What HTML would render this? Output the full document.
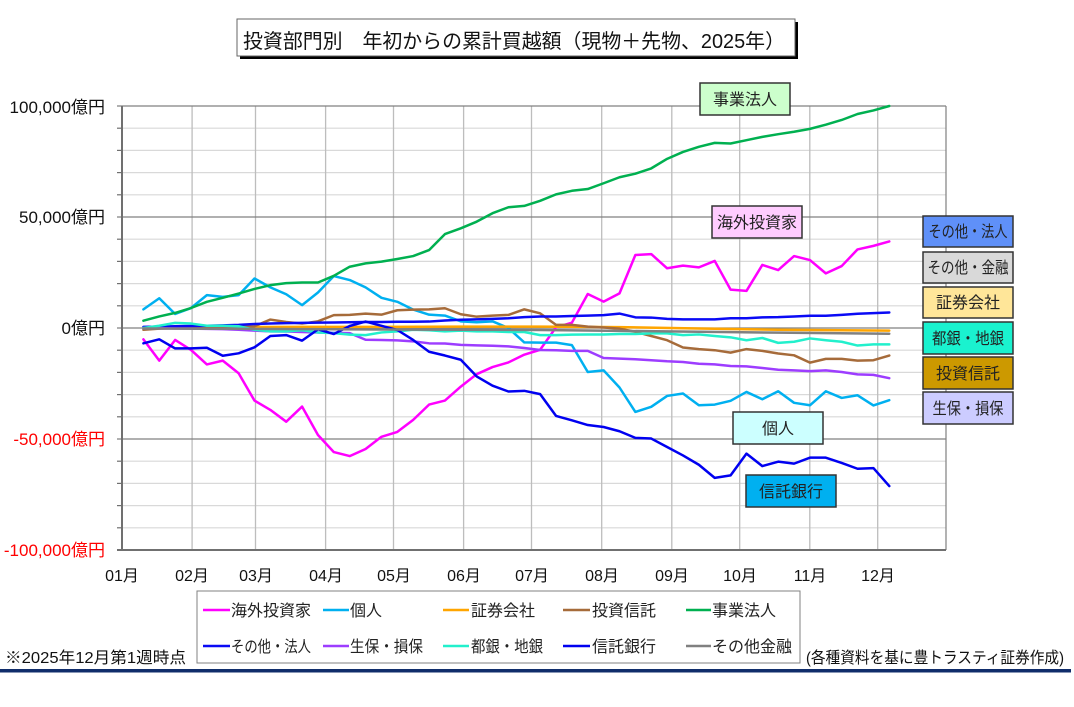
<!DOCTYPE html>
<html><head><meta charset="utf-8"><style>
html,body{margin:0;padding:0;background:#fff;}
svg{display:block;font-family:"Liberation Sans","Noto Sans CJK JP",sans-serif;}
</style></head><body>
<svg width="1074" height="707" viewBox="0 0 1074 707" xmlns="http://www.w3.org/2000/svg">
<rect x="0" y="0" width="1074" height="707" fill="#fff"/>
<!-- title -->
<rect x="240" y="22" width="558" height="37" fill="#000"/>
<rect x="237" y="19" width="558" height="37" fill="#fff" stroke="#666" stroke-width="1"/>
<text x="243" y="48" font-size="20" fill="#111" textLength="542" lengthAdjust="spacingAndGlyphs">投資部門別　年初からの累計買越額（現物＋先物、2025年）</text>

<!-- minor horizontal grid -->
<g stroke="#d9d9d9" stroke-width="1.2">
<line x1="122" x2="946" y1="128.2" y2="128.2"/><line x1="122" x2="946" y1="150.4" y2="150.4"/>
<line x1="122" x2="946" y1="172.6" y2="172.6"/><line x1="122" x2="946" y1="194.8" y2="194.8"/>
<line x1="122" x2="946" y1="239.2" y2="239.2"/><line x1="122" x2="946" y1="261.4" y2="261.4"/>
<line x1="122" x2="946" y1="283.6" y2="283.6"/><line x1="122" x2="946" y1="305.8" y2="305.8"/>
<line x1="122" x2="946" y1="350.2" y2="350.2"/><line x1="122" x2="946" y1="372.4" y2="372.4"/>
<line x1="122" x2="946" y1="394.6" y2="394.6"/><line x1="122" x2="946" y1="416.8" y2="416.8"/>
<line x1="122" x2="946" y1="461.2" y2="461.2"/><line x1="122" x2="946" y1="483.4" y2="483.4"/>
<line x1="122" x2="946" y1="505.6" y2="505.6"/><line x1="122" x2="946" y1="527.8" y2="527.8"/>
</g>
<!-- vertical month grid -->
<g stroke="#bdbdbd" stroke-width="1.3">
<line x1="192.1" x2="192.1" y1="106" y2="550"/><line x1="255.5" x2="255.5" y1="106" y2="550"/>
<line x1="325.6" x2="325.6" y1="106" y2="550"/><line x1="393.5" x2="393.5" y1="106" y2="550"/>
<line x1="463.6" x2="463.6" y1="106" y2="550"/><line x1="531.5" x2="531.5" y1="106" y2="550"/>
<line x1="601.7" x2="601.7" y1="106" y2="550"/><line x1="671.8" x2="671.8" y1="106" y2="550"/>
<line x1="739.7" x2="739.7" y1="106" y2="550"/><line x1="809.8" x2="809.8" y1="106" y2="550"/>
<line x1="877.7" x2="877.7" y1="106" y2="550"/>
</g>
<!-- major horizontal -->
<g stroke="#808080" stroke-width="1.2">
<line x1="117" x2="946" y1="217" y2="217"/>
<line x1="117" x2="946" y1="328" y2="328"/>
<line x1="117" x2="946" y1="439" y2="439"/>
<line x1="117" x2="946" y1="106" y2="106"/>
<line x1="946" x2="946" y1="106" y2="550"/>
</g>
<line x1="117" x2="946" y1="550" y2="550" stroke="#707070" stroke-width="2"/>
<line x1="122" x2="122" y1="106" y2="550" stroke="#707070" stroke-width="2"/>
<!-- ticks -->
<g stroke="#707070" stroke-width="1.2">
<line x1="117" x2="122" y1="128.2" y2="128.2"/><line x1="117" x2="122" y1="150.4" y2="150.4"/>
<line x1="117" x2="122" y1="172.6" y2="172.6"/><line x1="117" x2="122" y1="194.8" y2="194.8"/>
<line x1="117" x2="122" y1="239.2" y2="239.2"/><line x1="117" x2="122" y1="261.4" y2="261.4"/>
<line x1="117" x2="122" y1="283.6" y2="283.6"/><line x1="117" x2="122" y1="305.8" y2="305.8"/>
<line x1="117" x2="122" y1="350.2" y2="350.2"/><line x1="117" x2="122" y1="372.4" y2="372.4"/>
<line x1="117" x2="122" y1="394.6" y2="394.6"/><line x1="117" x2="122" y1="416.8" y2="416.8"/>
<line x1="117" x2="122" y1="461.2" y2="461.2"/><line x1="117" x2="122" y1="483.4" y2="483.4"/>
<line x1="117" x2="122" y1="505.6" y2="505.6"/><line x1="117" x2="122" y1="527.8" y2="527.8"/>
</g>

<!-- y labels -->
<g font-size="17" text-anchor="end">
<text x="105" y="113" fill="#111">100,000億円</text>
<text x="105" y="223" fill="#111">50,000億円</text>
<text x="105" y="334" fill="#111">0億円</text>
<text x="105" y="445" fill="#ff0000">-50,000億円</text>
<text x="105" y="556" fill="#ff0000">-100,000億円</text>
</g>
<!-- x labels -->
<g font-size="16" text-anchor="middle" fill="#111">
<text x="122" y="581">01月</text><text x="192" y="581">02月</text><text x="256" y="581">03月</text>
<text x="326" y="581">04月</text><text x="394" y="581">05月</text><text x="464" y="581">06月</text>
<text x="532" y="581">07月</text><text x="602" y="581">08月</text><text x="672" y="581">09月</text>
<text x="740" y="581">10月</text><text x="810" y="581">11月</text><text x="878" y="581">12月</text>
</g>

<!-- series -->
<g transform="translate(143.4,328) scale(15.87,-2.22)" fill="none" stroke-width="2.5" stroke-linejoin="round" stroke-linecap="round">
<polyline vector-effect="non-scaling-stroke" stroke="#ff00ff" points="0,-5.1 1,-14.7 2,-5.4 3,-9.9 4,-16.4 5,-14.7 6,-20.4 7,-32.7 8,-36.9 9,-42.2 10,-35.4 11,-48.2 12,-55.9 13,-57.7 14,-54.5 15,-49.0 16,-46.8 17,-41.4 18,-34.5 19,-32.7 20,-26.4 21,-20.8 22,-17.6 23,-15.5 24,-12.0 25,-9.8 26,0.3 27,2.4 28,15.3 29,11.9 30,15.6 31,32.9 32,33.3 33,26.9 34,28.1 35,27.3 36,30.2 37,17.3 38,16.7 39,28.4 40,26.1 41,32.4 42,30.6 43,24.6 44,27.9 45,35.4 46,37.0 47,39.0"/>
<polyline vector-effect="non-scaling-stroke" stroke="#00b0f0" points="0,8.4 1,13.4 2,6.3 3,9.0 4,14.8 5,14.0 6,14.8 7,22.3 8,18.3 9,15.2 10,10.3 11,16.0 12,23.4 13,21.6 14,18.3 15,13.6 16,11.8 17,8.3 18,6.0 19,5.6 20,3.0 21,2.6 22,3.0 23,0.0 24,-6.5 25,-6.6 26,-6.6 27,-7.7 28,-19.8 29,-19.1 30,-26.8 31,-37.8 32,-35.5 33,-30.6 34,-29.5 35,-34.8 36,-34.5 37,-32.8 38,-28.8 39,-32.1 40,-28.5 41,-33.7 42,-34.8 43,-28.5 44,-31.5 45,-30.3 46,-34.9 47,-32.5"/>
<polyline vector-effect="non-scaling-stroke" stroke="#ffa500" points="0,0.3 5,0.4 10,0.5 15,0.5 20,0.6 25,0.6 30,0.4 35,-0.2 40,-0.8 47,-1.2"/>
<polyline vector-effect="non-scaling-stroke" stroke="#a66b3a" points="0,-0.8 1,-0.3 2,0 3,0.2 4,0.2 5,0.3 6,0.5 7,0.8 8,3.8 9,2.7 10,2.0 11,3.0 12,5.8 13,5.9 14,6.5 15,6.0 16,8.0 17,8.3 18,8.4 19,8.9 20,6.2 21,5.1 22,5.6 23,5.9 24,8.4 25,6.6 26,1.4 27,1.4 28,0.6 29,0.2 30,-0.3 31,-1.7 32,-3.6 33,-5.5 34,-8.8 35,-9.5 36,-10.0 37,-11.1 38,-9.5 39,-10.3 40,-11.5 41,-12.3 42,-15.6 43,-13.9 44,-13.9 45,-14.7 46,-14.5 47,-12.4"/>
<polyline vector-effect="non-scaling-stroke" stroke="#00b050" points="0,3.3 1,5.2 2,6.8 3,9.0 4,11.8 5,13.6 6,15.5 7,17.6 8,19.3 9,20.2 10,20.5 11,20.5 12,23.5 13,27.6 14,29.1 15,29.9 16,31.1 17,32.4 18,35.1 19,42.3 20,44.9 21,47.9 22,51.7 23,54.4 24,55.0 25,57.3 26,60.2 27,61.8 28,62.6 29,65.2 30,67.9 31,69.5 32,71.9 33,76.2 34,79.3 35,81.6 36,83.4 37,83.1 38,84.6 39,86.1 40,87.3 41,88.4 42,89.7 43,91.6 44,93.7 45,96.4 46,98.0 47,100.0"/>
<polyline vector-effect="non-scaling-stroke" stroke="#0a0af5" points="0,0.5 1,0.6 2,0.8 3,0.9 4,1.0 5,1.2 6,1.4 7,1.8 8,2.0 9,2.2 10,2.3 11,2.4 12,2.5 13,2.6 14,2.7 15,2.7 16,2.8 17,2.8 18,2.9 19,3.4 20,3.7 21,3.9 22,4.1 23,4.4 24,4.9 25,5.2 26,5.2 27,5.4 28,5.6 29,5.8 30,6.5 31,4.8 32,4.7 33,4.1 34,3.9 35,3.9 36,3.9 37,4.4 38,4.4 39,4.8 40,4.9 41,5.2 42,5.5 43,5.5 44,5.9 45,6.4 46,6.7 47,7.0"/>
<polyline vector-effect="non-scaling-stroke" stroke="#9d3dff" points="0,0 1,-0.1 2,-0.2 3,-0.3 4,-0.4 5,-0.5 6,-0.8 7,-1.2 8,-1.5 9,-1.6 10,-1.8 11,-2.0 12,-2.2 13,-2.3 14,-5.3 15,-5.4 16,-5.6 17,-6.0 18,-6.9 19,-7.0 20,-7.6 21,-7.8 22,-8.0 23,-8.3 24,-9.0 25,-9.9 26,-10.0 27,-10.3 28,-10.3 29,-13.5 30,-13.8 31,-14.1 32,-14.5 33,-15.0 34,-15.3 35,-16.1 36,-16.4 37,-17.1 38,-17.3 39,-18.0 40,-18.8 41,-19.1 42,-19.4 43,-19.1 44,-19.8 45,-20.9 46,-21.1 47,-22.6"/>
<polyline vector-effect="non-scaling-stroke" stroke="#22f0cc" points="0,0 1,1.0 2,2.3 3,2.0 4,1.0 5,1.0 6,0.8 7,-0.8 8,-1.5 9,-1.5 10,-1.0 11,-2.0 12,-2.3 13,-3.0 14,-3.2 15,-2.0 16,-1.5 17,-0.8 18,-1.0 19,-1.5 20,-1.2 21,-1.5 22,-1.5 23,-1.8 24,-1.8 25,-3.2 26,-3.2 27,-3.0 28,-2.9 29,-2.9 30,-2.7 31,-2.7 32,-2.4 33,-2.4 34,-3.2 35,-2.9 36,-3.6 37,-4.2 38,-5.5 39,-4.5 40,-6.7 41,-6.2 42,-4.7 43,-5.5 44,-6.2 45,-7.9 46,-7.4 47,-7.4"/>
<polyline vector-effect="non-scaling-stroke" stroke="#0000f0" points="0,-6.9 1,-5.1 2,-9.2 3,-9.2 4,-8.9 5,-12.5 6,-11.4 7,-8.7 8,-3.6 9,-3.2 10,-5.7 11,-0.6 12,-2.7 13,0.9 14,2.9 15,1.0 16,-0.9 17,-5.4 18,-10.7 19,-12.4 20,-14.3 21,-21.8 22,-26.0 23,-28.6 24,-28.3 25,-29.8 26,-39.6 27,-41.6 28,-43.7 29,-44.6 30,-46.5 31,-49.5 32,-49.8 33,-53.6 34,-57.4 35,-61.6 36,-67.5 37,-66.4 38,-56.6 39,-62.2 40,-60.2 41,-61.1 42,-58.4 43,-58.4 44,-60.8 45,-63.4 46,-63.1 47,-71.2"/>
<polyline vector-effect="non-scaling-stroke" stroke="#808080" points="0,-0.2 10,-0.5 20,-0.8 25,-0.9 30,-1.3 35,-1.7 40,-2.1 47,-2.6"/>
</g>

<!-- callout labels -->
<g stroke="#333" stroke-width="1.5" font-size="16" text-anchor="middle">
<rect x="700" y="83" width="90" height="32" fill="#ccffcc"/>
<rect x="712" y="206" width="90" height="32" fill="#ffccff"/>
<rect x="923" y="216" width="90" height="31" fill="#5f90f8"/>
<rect x="923" y="252" width="90" height="31" fill="#d9d9d9"/>
<rect x="923" y="287" width="90" height="31" fill="#ffe699"/>
<rect x="923" y="322" width="90" height="32" fill="#1af2cf"/>
<rect x="923" y="357" width="90" height="32" fill="#cc9900"/>
<rect x="923" y="392" width="90" height="32" fill="#ccccff"/>
<rect x="733" y="412" width="90" height="32" fill="#ccffff"/>
<rect x="746" y="475" width="90" height="32" fill="#00b0f0"/>
</g>
<g font-size="16" fill="#222" text-anchor="middle">
<text x="745" y="105">事業法人</text>
<text x="757" y="228">海外投資家</text>
<text x="968" y="237" textLength="79" lengthAdjust="spacingAndGlyphs">その他・法人</text>
<text x="968" y="273" textLength="81" lengthAdjust="spacingAndGlyphs">その他・金融</text>
<text x="968" y="308">証券会社</text>
<text x="968" y="344" textLength="72" lengthAdjust="spacingAndGlyphs">都銀・地銀</text>
<text x="968" y="379">投資信託</text>
<text x="968" y="414" textLength="71" lengthAdjust="spacingAndGlyphs">生保・損保</text>
<text x="778" y="434">個人</text>
<text x="791" y="497">信託銀行</text>
</g>

<!-- legend -->
<rect x="197" y="591" width="603" height="72" fill="#fff" stroke="#808080" stroke-width="1"/>
<g stroke-width="2.5">
<line x1="203" x2="230" y1="610" y2="610" stroke="#ff00ff"/>
<line x1="323" x2="349" y1="610" y2="610" stroke="#00b0f0"/>
<line x1="443" x2="469" y1="610" y2="610" stroke="#ffa500"/>
<line x1="563" x2="590" y1="610" y2="610" stroke="#a66b3a"/>
<line x1="686" x2="711" y1="610" y2="610" stroke="#00b050"/>
<line x1="203" x2="230" y1="646" y2="646" stroke="#0a0af5"/>
<line x1="323" x2="349" y1="646" y2="646" stroke="#9d3dff"/>
<line x1="443" x2="469" y1="646" y2="646" stroke="#22f0cc"/>
<line x1="563" x2="590" y1="646" y2="646" stroke="#0000f0"/>
<line x1="686" x2="711" y1="646" y2="646" stroke="#808080"/>
</g>
<g font-size="16" fill="#222">
<text x="231" y="616">海外投資家</text>
<text x="350" y="616">個人</text>
<text x="471" y="616">証券会社</text>
<text x="592" y="616">投資信託</text>
<text x="712" y="616">事業法人</text>
<text x="231" y="652" textLength="80" lengthAdjust="spacingAndGlyphs">その他・法人</text>
<text x="350" y="652" textLength="73" lengthAdjust="spacingAndGlyphs">生保・損保</text>
<text x="471" y="652" textLength="72" lengthAdjust="spacingAndGlyphs">都銀・地銀</text>
<text x="592" y="652">信託銀行</text>
<text x="712" y="652">その他金融</text>
</g>

<!-- footer -->
<text x="5" y="663" font-size="16" fill="#111" textLength="181" lengthAdjust="spacingAndGlyphs">※2025年12月第1週時点</text>
<text x="806" y="663" font-size="16" fill="#111" textLength="258" lengthAdjust="spacingAndGlyphs">(各種資料を基に豊トラスティ証券作成)</text>
<rect x="0" y="669" width="1071" height="3.5" fill="#102d6b"/>
</svg>
</body></html>
